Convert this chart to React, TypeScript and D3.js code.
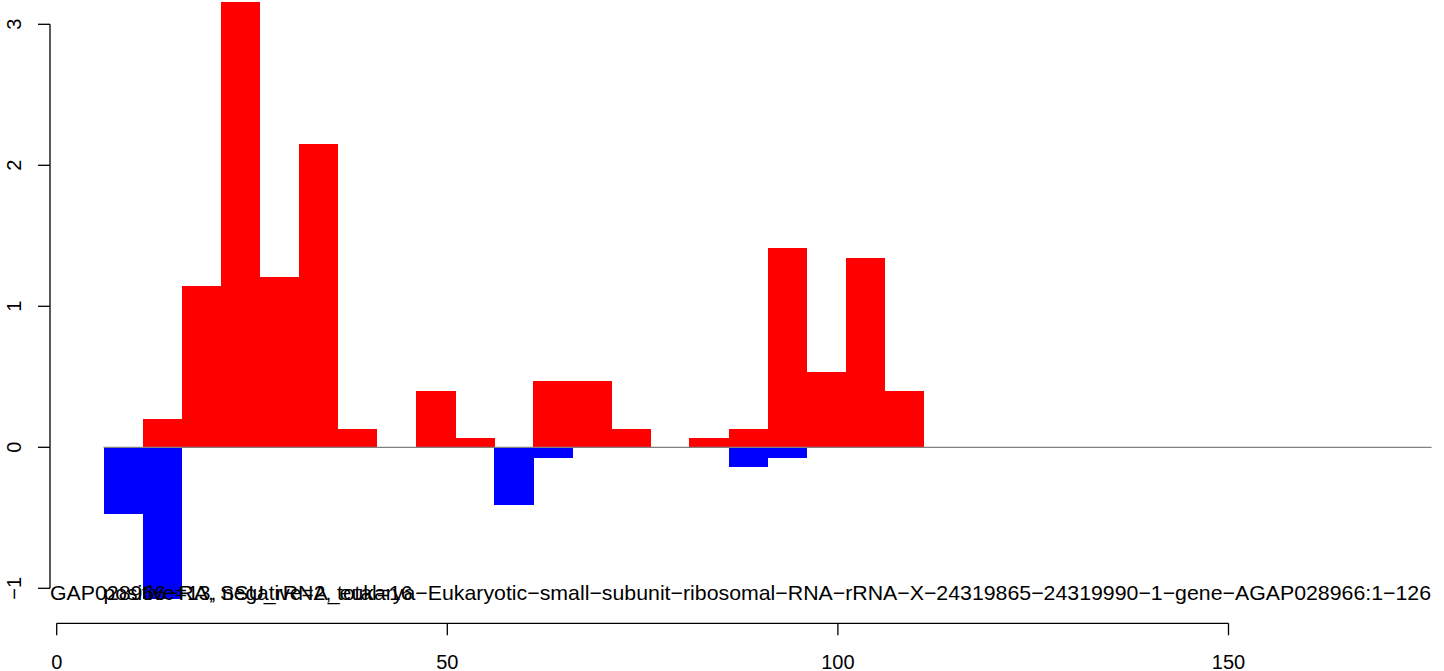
import React from "react";
import * as d3 from "d3";

const binWidth = 5;
const binStarts = [6, 11, 16, 21, 26, 31, 36, 41, 46, 51, 56, 61, 66, 71, 76, 81, 86, 91, 96, 101, 106];
const positiveValues = [0, 0.2, 1.146, 3.158, 1.21, 2.151, 0.13, 0, 0.4, 0.066, 0, 0.47, 0.47, 0.13, 0, 0.066, 0.13, 1.413, 0.534, 1.343, 0.4];
const negativeValues = [-0.471, -1.078, 0, 0, 0, 0, 0, 0, 0, 0, -0.409, -0.076, 0, 0, 0, 0, -0.138, -0.076, 0, 0, 0];
const xTicks = [0, 50, 100, 150];
const yTicks = [-1, 0, 1, 2, 3];
const xLineEnd = 176;
const titleText = "GAP028966\u2212RA, SSU_rRNA_eukarya\u2212Eukaryotic\u2212small\u2212subunit\u2212ribosomal\u2212RNA\u2212rRNA\u2212X\u221224319865\u221224319990\u22121\u2212gene\u2212AGAP028966:1\u2212126";
const countText = "positive=13, negative=2, total=16";

const fmt = (v: number) => (v < 0 ? "\u2212" + Math.abs(v) : String(v));

export default function App() {
  const W = 1444, H = 671;
  const x = d3.scaleLinear().domain([0, 150]).range([56.7, 1228.5]);
  const y = d3.scaleLinear().domain([-1, 3]).range([588.3, 24.3]);
  const font = "'Liberation Sans', Arial, Helvetica, sans-serif";
  const axisX = 50;
  const axisY = 623.3;

  return (
    <svg width={W} height={H} style={{ position: "absolute", left: 0, top: 0, background: "#fff" }} fontFamily={font}>
      <g shapeRendering="crispEdges">
        {binStarts.map((b, i) =>
          negativeValues[i] < 0 ? (
            <rect key={"n" + i} x={x(b)} width={x(b + binWidth) - x(b) + 0.5} y={y(0)} height={y(negativeValues[i]) - y(0)} fill="#0000FF" />
          ) : null
        )}
        {binStarts.map((b, i) =>
          positiveValues[i] > 0 ? (
            <rect key={"p" + i} x={x(b)} width={x(b + binWidth) - x(b) + 0.5} y={y(positiveValues[i])} height={y(0) - y(positiveValues[i])} fill="#FF0000" />
          ) : null
        )}
      </g>
      <line x1={x(binStarts[0])} x2={x(xLineEnd)} y1={y(0)} y2={y(0)} stroke="#808080" strokeWidth={1.3} />

      {/* y axis */}
      <line x1={axisX} x2={axisX} y1={y(yTicks[0])} y2={y(yTicks[yTicks.length - 1])} stroke="#000" strokeWidth={1.3} />
      {yTicks.map((t) => (
        <g key={"yt" + t}>
          <line x1={axisX - 12} x2={axisX} y1={y(t)} y2={y(t)} stroke="#000" strokeWidth={1.3} />
          <text transform={`translate(21,${y(t)}) rotate(-90)`} textAnchor="middle" fontSize={20} fill="#000">
            {fmt(t)}
          </text>
        </g>
      ))}

      {/* x axis */}
      <line x1={x(xTicks[0])} x2={x(xTicks[xTicks.length - 1])} y1={axisY} y2={axisY} stroke="#000" strokeWidth={1.3} />
      {xTicks.map((t) => (
        <g key={"xt" + t}>
          <line x1={x(t)} x2={x(t)} y1={axisY} y2={axisY + 12} stroke="#000" strokeWidth={1.3} />
          <text x={x(t)} y={668.5} textAnchor="middle" fontSize={20} fill="#000">
            {fmt(t)}
          </text>
        </g>
      ))}

      <text x={50} y={600} fontSize={21} fill="#000" textLength={1381} lengthAdjust="spacingAndGlyphs">
        {titleText}
      </text>
      <text x={x(binStarts[0])} y={600} fontSize={21} fill="#000">
        {countText}
      </text>
    </svg>
  );
}
